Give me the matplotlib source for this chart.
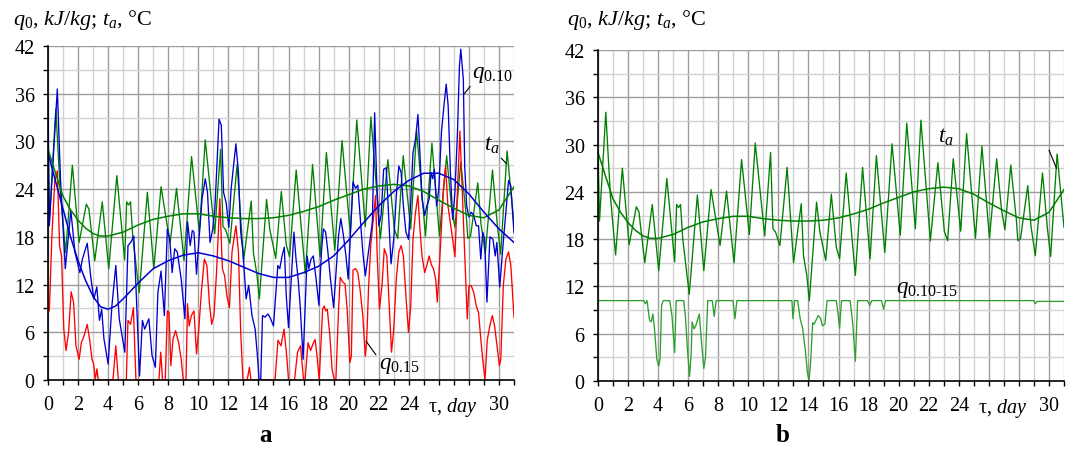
import matplotlib
matplotlib.use("Agg")
import matplotlib.pyplot as plt
from matplotlib.ticker import MultipleLocator, FixedLocator, FixedFormatter

plt.rcParams['font.family'] = ['Liberation Serif', 'DejaVu Serif']
plt.rcParams['mathtext.fontset'] = 'custom'
plt.rcParams['mathtext.rm'] = 'Liberation Serif'
plt.rcParams['mathtext.it'] = 'Liberation Serif:italic'
plt.rcParams['mathtext.bf'] = 'Liberation Serif:bold'

# ---- ambient temperature t_a (same in both panels) ----
ta_day = [0.0, 0.1, 0.52, 0.82, 1.17, 1.62, 2.07, 2.55, 2.72, 3.11, 3.61, 4.04, 4.58, 5.1, 5.23,
          5.36, 5.49, 5.64, 6.07, 6.61, 7.04, 7.52, 8.12, 8.55, 9.05, 9.55, 10.07, 10.46, 11.09,
          11.48, 11.64, 11.81, 12.1, 12.58, 13.01, 13.52, 13.67, 13.89, 14.06, 14.54, 14.76,
          15.15, 15.52, 15.85, 16.07, 16.51, 17.12, 17.6, 18.1, 18.52, 19.08, 19.56, 20.11,
          20.54, 21.11, 21.48, 22.11, 22.61, 23.04, 23.26, 23.63, 24.13, 24.52, 25.11, 25.54,
          26.04, 26.52, 26.85, 27.07, 27.46, 27.83, 27.93, 28.11, 28.59, 28.8, 29.09, 29.57,
          29.89, 30.11, 30.54, 31.0]
ta_val = [29.0, 20.3, 34.1, 23.6, 16.0, 27.0, 17.3, 22.1, 21.5, 15.0, 22.4, 14.0, 25.7, 15.1, 22.4,
          22.0, 22.4, 18.0, 11.0, 23.6, 14.0, 24.3, 17.2, 24.1, 15.0, 28.1, 18.6, 30.2, 18.4,
          29.0, 19.3, 18.9, 17.2, 27.1, 15.0, 22.5, 15.9, 13.4, 10.2, 22.7, 18.9,
          15.3, 23.7, 17.0, 15.5, 26.4, 13.4, 27.1, 15.5, 28.6, 16.3, 30.1, 18.5,
          32.7, 19.3, 33.1, 17.8, 27.7, 19.0, 17.8, 28.2, 19.0, 31.4, 18.1, 29.8,
          18.1, 28.2, 21.6, 19.2, 27.4, 20.5, 17.8, 18.1, 24.8, 19.7, 15.9, 26.4,
          19.5, 15.8, 28.8, 19.5]

# trend of t_a
ta_trend_day = [0, 0.5, 1, 1.5, 2, 2.5, 3, 3.5, 4, 5, 6, 7, 8, 9, 10, 11, 12, 13, 14, 15, 16,
                17, 18, 19, 20, 21, 22, 23, 24, 25, 26, 27, 28, 29, 30, 31]
ta_trend_val = [29.0, 26.0, 23.1, 21.4, 20.1, 19.1, 18.4, 18.1, 18.1, 18.6, 19.5, 20.2, 20.6,
                20.9, 20.9, 20.6, 20.4, 20.3, 20.3, 20.4, 20.7, 21.2, 21.8, 22.6, 23.3, 24.0,
                24.4, 24.6, 24.4, 23.7, 22.6, 21.6, 20.7, 20.4, 21.4, 24.3]

# ---- q0.10 (blue) ----
q10_day = [0.0, 0.09, 0.26, 0.62, 0.83, 1.15, 1.52, 1.79, 2.12, 2.29, 2.61, 2.86, 3.05, 3.25,
           3.42, 3.57, 3.72, 4.0, 4.25, 4.51, 4.74, 5.11, 5.32, 5.5, 5.71, 5.9, 6.09, 6.28, 6.43,
           6.71, 6.92, 7.14, 7.31, 7.52, 7.74, 7.94, 8.1, 8.26, 8.43, 8.6, 8.86, 9.11, 9.28,
           9.46, 9.6, 9.71, 9.88, 10.08, 10.25, 10.46, 10.61, 10.78, 10.96, 11.1, 11.38, 11.53,
           11.68, 11.85, 12.03, 12.18, 12.5, 12.67, 12.82, 12.97, 13.18, 13.35, 13.57, 13.78,
           13.95, 14.04, 14.15, 14.27, 14.42, 14.64, 14.81, 15.0, 15.29, 15.42, 15.57, 15.72,
           15.85, 16.0, 16.36, 16.49, 16.64, 16.79, 16.97, 17.24, 17.35, 17.5, 17.65, 17.82,
           18.02, 18.19, 18.32, 18.47, 18.62, 18.79, 19.0, 19.33, 19.48, 19.65, 19.82, 19.97,
           20.29, 20.46, 20.61, 20.76, 20.94, 21.11, 21.4, 21.58, 21.73, 21.86, 22.01, 22.16,
           22.33, 22.5, 22.65, 22.82, 23.0, 23.17, 23.34, 23.49, 23.64, 23.81, 23.98, 24.13,
           24.28, 24.45, 24.61, 24.73, 24.88, 25.06, 25.2, 25.36, 25.48, 25.6, 25.7, 25.85,
           26.0, 26.17, 26.34, 26.49, 26.62, 26.77, 26.92, 27.07, 27.24, 27.37, 27.46, 27.63,
           27.72, 27.85, 28.0, 28.15, 28.32, 28.49, 28.64, 28.79, 28.92, 29.05, 29.2, 29.4,
           29.6, 29.75, 29.86, 30.05, 30.3, 30.46, 30.64, 30.79, 31.0]
q10_val = [35.1, 19.4, 25.0, 36.6, 25.3, 14.0, 21.3, 16.1, 13.5, 15.2, 17.2, 12.7, 10.2, 11.7,
           7.5, 8.9, 5.2, 2.0, 9.3, 14.4, 7.7, 3.5, 16.9, 17.3, 18.1, 9.5, 0.5, 7.5, 6.4,
           7.7, 3.1, 1.6, 11.0, 13.7, 8.1, 19.0, 17.7, 13.5, 16.5, 16.1, 12.7, 7.7, 19.9,
           16.9, 18.8, 18.6, 13.3, 18.6, 22.8, 25.3, 23.6, 17.3, 19.0, 21.5, 32.8, 32.0,
           23.6, 22.3, 19.2, 24.0, 29.7, 26.1, 18.6, 16.1, 10.2, 11.9, 8.1, 6.4,
           2.6, 0.0, 0.0, 8.1, 7.9, 8.3, 7.7, 6.8, 14.4, 14.0, 15.6, 16.7,
           10.6, 6.6, 18.6, 15.4, 12.7, 8.9, 2.6, 15.6, 14.0, 15.2, 15.6, 12.9,
           9.4, 16.1, 19.0, 18.6, 16.1, 12.7, 9.1, 18.2, 20.3, 18.2, 15.6, 12.7,
           24.9, 24.1, 24.5, 20.7, 16.1, 13.1, 17.3, 19.9, 33.6, 25.3, 19.4, 20.7,
           26.5, 26.7, 21.0, 14.6, 17.7, 23.2, 26.9, 26.1, 21.9, 18.6, 17.7, 22.3,
           28.6, 30.3, 33.4, 29.0, 22.8, 20.7, 21.9, 22.8, 26.1, 25.3, 26.5, 21.9,
           24.0, 31.1, 34.5, 37.2, 34.5, 26.1, 20.2, 23.6, 31.1, 39.5, 41.6, 37.8,
           26.9, 21.9, 20.5, 21.1, 20.7, 19.4, 19.4, 15.2, 18.6, 17.7, 9.8, 18.0,
           17.7, 15.6, 17.3, 11.7, 17.7, 21.1, 25.1, 24.4, 18.5]

q10_trend_day = [0, 0.5, 1, 1.5, 2, 2.5, 3, 3.5, 4, 4.5, 5, 6, 7, 8, 9, 10, 11, 12, 13, 14, 15,
                 16, 17, 18, 19, 20, 21, 22, 23, 24, 25, 26, 27, 28, 29, 30, 31]
q10_trend_val = [28.5, 25.0, 21.5, 18.0, 15.0, 12.5, 10.5, 9.2, 8.9, 9.3, 10.2, 12.2, 14.0,
                 15.0, 15.7, 16.0, 15.6, 15.0, 14.2, 13.4, 12.9, 12.9, 13.5, 14.3, 15.6, 17.6,
                 19.8, 21.9, 23.7, 25.1, 26.0, 26.0, 25.2, 23.4, 21.1, 19.0, 17.3]

# ---- q0.15 (red) ----
q15_day = [0.0, 0.09, 0.26, 0.45, 0.62, 0.77, 0.9, 1.05, 1.2, 1.37, 1.54, 1.7, 1.86, 2.07, 2.22,
           2.37, 2.61, 2.76, 2.93, 3.04, 3.14, 3.25, 3.35, 4.32, 4.51, 4.68, 5.21, 5.32, 5.49,
           5.68, 5.85, 7.38, 7.5, 7.62, 7.8, 7.94, 8.05, 8.17, 8.32, 8.49, 8.69, 8.86, 9.0,
           9.18, 9.28, 9.39, 9.54, 9.71, 9.88, 10.03, 10.2, 10.4, 10.57, 10.74, 10.89, 11.04,
           11.21, 11.43, 11.6, 11.75, 11.9, 12.07, 12.24, 12.5, 12.67, 12.82, 12.97, 13.25,
           13.4, 13.5, 15.1, 15.3, 15.5, 15.7, 15.9, 16.0, 16.4, 16.6, 16.8, 17.0, 17.1, 17.3,
           17.47, 17.62, 17.77, 17.9, 18.04, 18.27, 18.38, 18.47, 18.58, 18.75, 18.9, 19.05,
           19.15, 19.33, 19.44, 19.61, 19.76, 19.9, 20.08, 20.18, 20.29, 20.46, 20.61, 20.76,
           20.94, 21.11, 21.2, 21.32, 21.47, 21.64, 21.79, 21.9, 22.05, 22.22, 22.37, 22.54,
           22.7, 22.85, 23.0, 23.17, 23.34, 23.49, 23.64, 23.81, 23.98, 24.13, 24.28, 24.45,
           24.61, 24.73, 24.88, 25.06, 25.2, 25.36, 25.5, 25.64, 25.79, 25.9, 26.1, 26.3,
           26.45, 26.6, 26.92, 27.07, 27.2, 27.4, 27.55, 27.78, 27.89, 28.0, 28.15, 28.32,
           28.49, 28.64, 28.79, 28.92, 29.07, 29.22, 29.39, 29.56, 29.71, 29.86, 30.03, 30.12,
           30.29, 30.46, 30.64, 30.79, 31.0]
q15_val = [9.3, 8.7, 18.1, 25.0, 26.3, 16.9, 15.6, 6.4, 3.7, 6.0, 11.1, 9.8, 4.3, 2.6, 4.7,
           5.4, 7.0, 5.2, 2.6, 2.0, 0.0, 1.4, 0.0, 0.0, 4.3, 0.0, 0.0, 7.5, 7.0,
           9.1, 0.0, 0.0, 3.5, 0.0, 0.0, 8.7, 8.5, 1.8, 5.2, 6.2, 4.7, 2.6, 0.0,
           0.0, 9.6, 6.8, 8.1, 8.7, 3.3, 6.4, 11.0, 15.2, 14.4, 9.6, 7.0, 8.1,
           13.5, 22.8, 14.0, 13.1, 10.6, 9.1, 16.1, 19.4, 16.1, 6.0, 0.0, 0.0,
           1.6, 0.0, 0.0, 5.0, 4.3, 6.4, 2.6, 0.0, 0.0, 3.5, 4.3, 0.0, 0.0, 4.7,
           3.7, 4.5, 5.1, 3.0, 0.0, 8.9, 9.3, 8.7, 8.9, 5.6, 1.3, 0.0,
           0.0, 8.9, 12.9, 12.3, 12.1, 8.9, 2.2, 3.0, 13.8, 14.0, 13.5, 11.4,
           8.1, 3.0, 4.9, 11.4, 16.9, 20.3, 23.2, 15.6, 8.9, 11.9, 16.5, 15.6,
           9.3, 3.5, 6.4, 12.7, 16.1, 16.9, 15.6, 10.6, 6.0, 9.3, 17.7, 21.1,
           23.2, 19.4, 15.6, 13.5, 14.4, 15.6, 14.5, 14.0, 12.7, 9.8, 16.5, 24.0,
           26.9, 22.0, 17.7, 15.5, 22.0, 31.3, 24.0, 12.7, 7.7, 11.8, 11.9, 11.0,
           9.3, 8.5, 5.2, 2.6, 0.0, 5.0, 6.8, 8.1, 6.8, 4.5, 1.8, 2.6,
           11.9, 15.2, 16.1, 14.4, 7.9]

# ---- q0.10-15 (panel b) ----
qb_day = [0.0, 3.05, 3.15, 3.26, 3.43, 3.54, 3.65, 3.76, 3.91, 4.04, 4.13, 4.23, 4.34, 4.77, 4.92,
          5.1, 5.2, 5.7, 5.81, 5.95, 6.09, 6.2, 6.26, 6.39, 6.5, 6.61, 6.74, 6.87, 7.04, 7.15,
          7.3, 7.6, 7.73, 7.86, 8.98, 9.11, 9.24, 12.9, 12.97, 13.08, 13.28, 13.45, 13.62,
          13.78, 13.93, 14.04, 14.15, 14.28, 14.37, 14.5, 14.65, 14.8, 14.93, 15.09, 15.24,
          15.85, 15.96, 16.07, 16.2, 16.77, 16.94, 17.12, 17.27, 17.93, 18.08, 18.21, 18.86,
          19.0, 19.13, 28.98, 29.09, 29.2, 31.0]
qb_val = [10.2, 10.2, 9.8, 10.2, 7.7, 7.5, 8.5, 6.6, 2.8, 1.9, 2.8, 9.6, 10.2, 10.2, 8.3,
          3.6, 10.2, 10.2, 8.3, 4.0, 0.6, 3.5, 7.5, 6.6, 7.0, 7.7, 8.5, 5.3, 1.6, 3.0,
          10.2, 10.2, 8.2, 10.2, 10.2, 7.9, 10.2, 10.2, 7.9, 10.2, 10.2, 7.9, 6.6,
          4.1, 1.1, 0.0, 2.6, 7.4, 7.2, 7.7, 8.3, 8.0, 7.0, 7.2, 10.2,
          10.2, 8.7, 6.7, 10.2, 10.2, 7.4, 2.5, 10.2, 10.2, 9.6, 10.2, 10.2,
          9.1, 10.2, 10.2, 9.8, 10.1, 10.1]

x_labels = ['0', '2', '4', '6', '8', '10', '12', '14', '16', '18', '20', '22', '24', '', '', '30']

W, H = 1073, 456
fig = plt.figure(figsize=(W / 100, H / 100), dpi=100)
ax_a = fig.add_axes([48 / W, 1 - 381 / H, 466 / W, 334 / H])
ax_b = fig.add_axes([598 / W, 1 - 382 / H, 466 / W, 331 / H])

FS = 14.5
BLUE, RED, GREEN, GREEN2 = '#0000d0', '#ff0000', '#008000', '#2f9e2f'


def style(ax):
    ax.set_xlim(0, 31)
    ax.set_ylim(0, 42)
    ax.spines['top'].set_visible(False)
    ax.spines['right'].set_visible(False)
    ax.spines['left'].set_linewidth(1.2)
    ax.spines['bottom'].set_linewidth(1.2)
    ax.xaxis.set_major_locator(FixedLocator(list(range(0, 31, 2))))
    ax.xaxis.set_major_formatter(FixedFormatter(x_labels))
    ax.xaxis.set_minor_locator(MultipleLocator(1))
    ax.yaxis.set_major_locator(MultipleLocator(6))
    ax.yaxis.set_minor_locator(MultipleLocator(3))
    ax.tick_params(which='both', direction='out', length=3.6, width=1, colors='black',
                   labelsize=FS)
    ax.tick_params(axis='x', which='both', pad=7)
    ax.tick_params(axis='y', which='both', pad=6)
    ax.grid(which='major', color='#9c9c9c', linewidth=1.0)
    ax.grid(which='minor', color='#d2d2d2', linewidth=1.0)
    ax.set_axisbelow(True)
    # axis name sits in the gap left by the 26 and 28 labels
    ax.annotate(r'τ, $\mathit{day}$', xy=(26.9, 0), xycoords=('data', 'axes fraction'),
                xytext=(0, -10.6), textcoords='offset points',
                fontsize=FS, ha='center', va='top')


for ax in (ax_a, ax_b):
    style(ax)

lw = 0.95
# panel a
ax_a.plot(ta_day, ta_val, color=GREEN, lw=lw)
ax_a.plot(q15_day, q15_val, color=RED, lw=lw)
ax_a.plot(q10_day, q10_val, color=BLUE, lw=lw)
ax_a.plot(ta_trend_day, ta_trend_val, color=GREEN, lw=1.1)
ax_a.plot(q10_trend_day, q10_trend_val, color=BLUE, lw=1.1)

arrow = dict(arrowstyle='-', color='black', lw=0.8, shrinkA=0, shrinkB=0)
ax_a.annotate(r'$q_{0.10}$', xy=(27.7, 36.0), xytext=(28.2, 38.6), fontsize=16.5,
              ha='left', va='center', arrowprops=dict(arrow, relpos=(0.05, 0.1)))
ax_a.annotate(r'$t_a$', xy=(30.5, 27.2), xytext=(29.0, 29.6), fontsize=16.5,
              ha='left', va='center', arrowprops=dict(arrow, relpos=(0.8, 0.1)))
ax_a.annotate(r'$q_{0.15}$', xy=(21.15, 4.9), xytext=(22.0, 1.9), fontsize=16.5,
              ha='left', va='center', arrowprops=dict(arrow, relpos=(0.0, 0.8)))

# panel b
ax_b.plot(ta_day, ta_val, color=GREEN, lw=lw)
ax_b.plot(qb_day, qb_val, color=GREEN2, lw=lw)
ax_b.plot(ta_trend_day, ta_trend_val, color=GREEN, lw=1.1)
ax_b.text(22.6, 31.0, r'$t_a$', fontsize=16.5, ha='left', va='center')
ax_b.annotate('', xy=(30.5, 27.0), xytext=(30.0, 29.3), arrowprops=arrow)
ax_b.text(19.8, 10.4, r'$q_{0.10\text{-}15}$', fontsize=16.5, ha='left', va='bottom')

ylab = r'$q_0$, $kJ/kg$; $t_a$, °C'
fig.text(13 / W, 1 - 25 / H, ylab, fontsize=16, ha='left', va='baseline')
fig.text(567 / W, 1 - 25 / H, ylab, fontsize=16, ha='left', va='baseline')

fig.text(266 / W, 1 - 436 / H, 'a', fontsize=18, fontweight='bold', ha='center', va='center')
fig.text(783 / W, 1 - 436 / H, 'b', fontsize=18, fontweight='bold', ha='center', va='center')

fig.savefig('out.png', dpi=100, facecolor='white')
